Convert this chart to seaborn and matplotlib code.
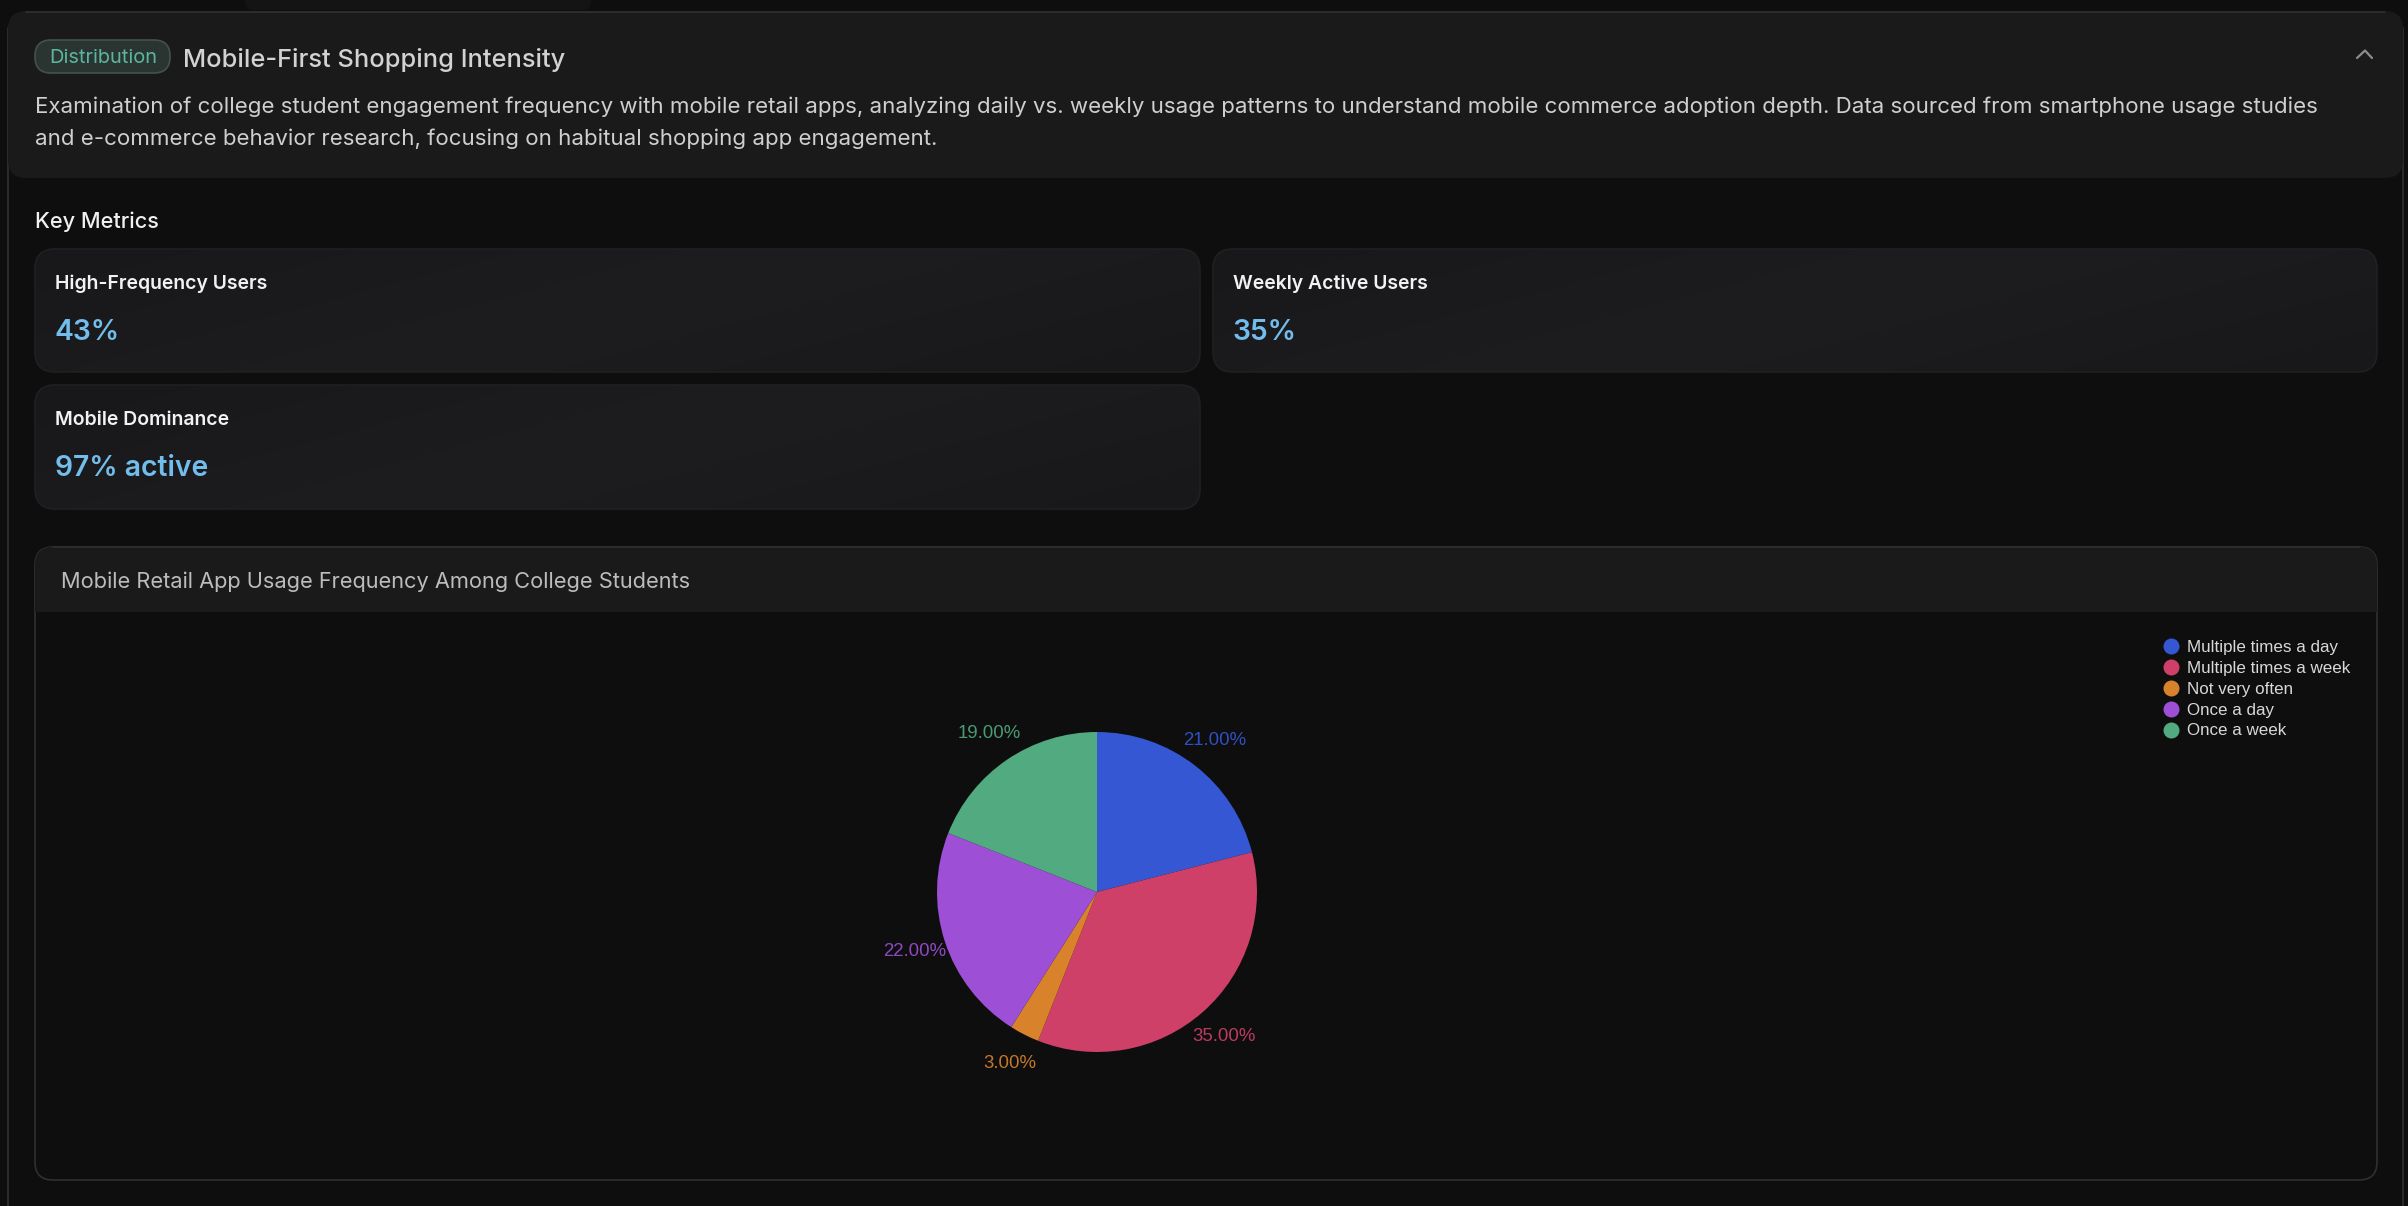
import matplotlib
matplotlib.use("Agg")
import matplotlib.pyplot as plt
from matplotlib.colors import LinearSegmentedColormap
from matplotlib.lines import Line2D
from matplotlib.patches import FancyBboxPatch, Rectangle
import numpy as np
import seaborn as sns

W, H = 2408, 1206
BG = "#0e0e0f"
PANEL = "#1a1a1b"
EDGE = "#303032"

# chart data
categories = ["Multiple times a day", "Multiple times a week", "Not very often", "Once a day", "Once a week"]
shares = [21, 35, 3, 22, 19]
slice_colors = ["#3557d4", "#cf4068", "#d8832b", "#9d50d6", "#52aa80"]

# page text
badge_text = "Distribution"
page_title = "Mobile-First Shopping Intensity"
description = [
    "Examination of college student engagement frequency with mobile retail apps, analyzing daily vs. weekly usage patterns to understand mobile commerce adoption depth. Data sourced from smartphone usage studies",
    "and e-commerce behavior research, focusing on habitual shopping app engagement.",
]
metric_labels = ["High-Frequency Users", "Weekly Active Users", "Mobile Dominance"]
metric_values = ["43%", "35%", "97% active"]
chart_title = "Mobile Retail App Usage Frequency Among College Students"

sns.set_theme(style="dark")
plt.rcParams["font.family"] = ["Inter", "DejaVu Sans"]
palette = sns.color_palette(slice_colors)
card_cmap = LinearSegmentedColormap.from_list("card", ["#18181a", "#1d1d20", "#18181a"])


def px(size):
    return size * 0.72


def round_box(ax, x0, y0, x1, y1, rad, face, edge="none", lw=1.2, z=1):
    box = FancyBboxPatch((x0 + rad, y0 + rad), x1 - x0 - 2 * rad, y1 - y0 - 2 * rad,
                         boxstyle=f"round,pad={rad},rounding_size={rad}",
                         facecolor=face, edgecolor=edge, linewidth=lw, zorder=z)
    ax.add_patch(box)
    return box


fig = plt.figure(figsize=(W / 100, H / 100), dpi=100, facecolor=BG)

# page layer in pixel coordinates
page = fig.add_axes([0, 0, 1, 1])
page.axis("off")

page.plot([8, 8], [28, H], color=EDGE, lw=1.2, zorder=0)
page.plot([2403, 2403], [28, H], color=EDGE, lw=1.2, zorder=0)
round_box(page, 245, -20, 591, 10, 8, "#141415")
round_box(page, 8, 11, 2403, 178, 18, PANEL, z=1)
page.plot([26, 2385], [11.5, 11.5], color=EDGE, lw=1.2, zorder=2)

# header
round_box(page, 35, 40, 170, 73, 16, "#2a3531", edge="#43524e", z=2)
page.text(103, 58, badge_text, color="#5bb5a0", fontsize=px(20), ha="center", va="center", zorder=3)
page.text(183, 60, page_title, color="#d2d2d2", fontsize=px(25.4), fontweight="medium", va="center", zorder=3)
page.plot([2357, 2365, 2372], [58, 50.5, 58], color="#8c8c8c", lw=1.6, zorder=3)
for y, line in zip([107, 139], description):
    page.text(35, y, line, color="#cfcfcf", fontsize=px(22.25), va="center", zorder=3)

page.text(35, 222, "Key Metrics", color="#f0f0f0", fontsize=px(21.7), fontweight="medium", va="center")

# metric cards
ramp = np.linspace(0, 1, 256).reshape(1, -1) + np.linspace(0, 1, 256).reshape(-1, 1) * 0.4
card_boxes = [(35, 249, 1200, 372), (1213, 249, 2377, 372), (35, 385, 1200, 509)]
for (x0, y0, x1, y1), label, value in zip(card_boxes, metric_labels, metric_values):
    outline = round_box(page, x0, y0, x1, y1, 20, "none", edge="#202023", z=2)
    fill = page.imshow(ramp, extent=(x0, x1, y1, y0), cmap=card_cmap, aspect="auto", zorder=1)
    fill.set_clip_path(outline)
    page.text(x0 + 20, y0 + 35, label, color="#f2f2f2", fontsize=px(19.4), fontweight="semibold", va="center", zorder=3)
    page.text(x0 + 20, y0 + 83, value, color="#72bdec", fontsize=px(28.3), fontweight="semibold", va="center", zorder=3)

# chart card
chart_box = round_box(page, 35, 547, 2377, 1180, 18, BG, edge=EDGE, z=1)
header = Rectangle((35, 547), 2342, 65, facecolor=PANEL, edgecolor="none", zorder=2)
page.add_patch(header)
header.set_clip_path(chart_box)
page.plot([53, 2359], [547, 547], color=EDGE, lw=1.2, zorder=3)
page.text(61, 582, chart_title, color="#bcbcbc", fontsize=px(21.8), va="center", zorder=3)

page.set_xlim(0, W)
page.set_ylim(H, 0)

# pie, centred at (1097, 892) with radius 160 px
radius = 160
span = 1.3
side = 2 * span * radius
pie_ax = fig.add_axes([(1097 - side / 2) / W, 1 - (892 + side / 2) / H, side / W, side / H])
wedges, _, pct_labels = pie_ax.pie(shares, colors=palette, startangle=90, counterclock=False,
                                   autopct="%.2f%%", pctdistance=1.2, radius=1,
                                   wedgeprops={"linewidth": 0})
pie_ax.set_xlim(-span, span)
pie_ax.set_ylim(-span, span)
pie_ax.patch.set_alpha(0)
for label, color in zip(pct_labels, palette):
    label.set_color(color)
    label.set_alpha(0.9)
    label.set_fontsize(px(18.6))
    label.set_family(["Liberation Sans", "DejaVu Sans"])

# legend
handles = [Line2D([], [], linestyle="none", marker="o", markersize=px(16), markerfacecolor=c,
                  markeredgewidth=0) for c in palette]
legend = fig.legend(handles, categories, loc="upper left", bbox_to_anchor=(2160 / W, 1 - 640 / H),
                    frameon=False, labelspacing=0.345, handletextpad=0.35, handlelength=1.25,
                    borderpad=0, borderaxespad=0,
                    prop={"family": ["Liberation Sans", "DejaVu Sans"], "size": px(17)})
for text in legend.get_texts():
    text.set_color("#d8d8d8")

fig.savefig("out.png", dpi=100, facecolor=BG)
